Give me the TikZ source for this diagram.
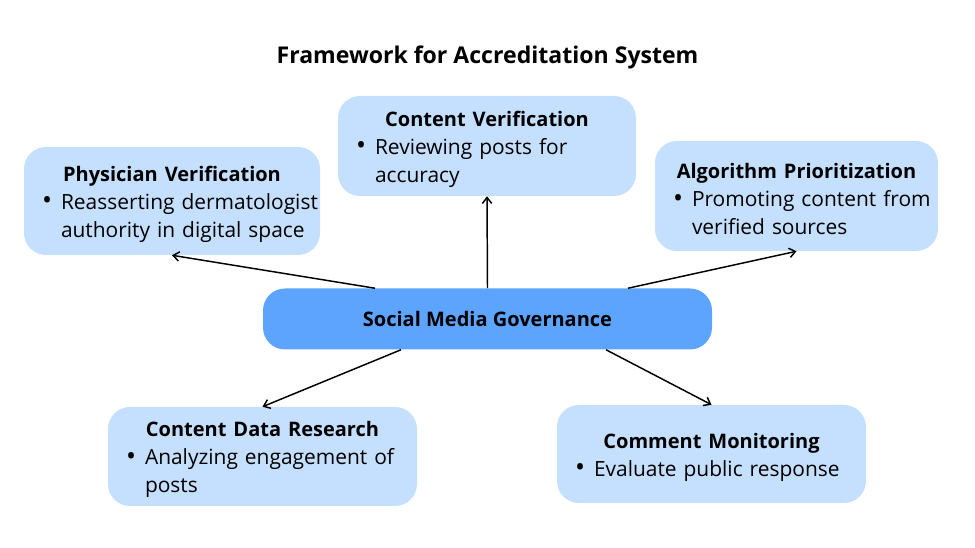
\documentclass[tikz,border=0pt]{standalone}
\usepackage{fontspec}
\setmainfont{Open Sans}
\usepackage{xcolor}
\usetikzlibrary{arrows.meta}

\definecolor{boxblue}{RGB}{197,223,254}
\definecolor{hubblue}{RGB}{92,164,253}

\newlength{\pxu}
\setlength{\pxu}{0.75pt}
\newcommand{\boxhead}[1]{\makebox[\linewidth]{\rule{0pt}{16pt}\fontsize{15}{21}\selectfont\bfseries #1}}
\newcommand{\bul}[1]{\mbox{\hspace*{14\pxu}\makebox[19\pxu][l]{\raisebox{-0.6pt}{\fontsize{20}{21}\selectfont\textbullet}}#1}}
\newcommand{\bulcont}[1]{\mbox{\hspace*{33\pxu}#1}}

\tikzset{
  topic/.style={fill=boxblue, rounded corners=22\pxu, inner xsep=4\pxu, inner ysep=0pt,
    align=left, font=\fontsize{15.7}{21}\selectfont},
  hub/.style={fill=hubblue, rounded corners=22\pxu, inner sep=0pt, align=center,
    font=\fontsize{15}{21}\selectfont\bfseries},
  link/.style={line width=1.1pt, -{Straight Barb[length=4.5pt,width=7pt]}}
}

\begin{document}
\begin{tikzpicture}[x=0.75pt,y=0.75pt,yscale=-1,xscale=1]
\useasboundingbox (0,0) rectangle (975,548);

% Title
\node (title) at (487.5,57) {\fontsize{17.3}{20}\selectfont\bfseries Framework for Accreditation System};

%Shape: Rounded Rect [id:hub]
\node [hub, minimum width=449\pxu, minimum height=61\pxu] (smg) at (487.5,319) {Social Media Governance};

%Shape: Rounded Rect [id:physician]
\node [topic, minimum width=296\pxu, minimum height=108\pxu, text width=288\pxu] (phys) at (172,201)
  {\boxhead{Physician Verification}\\ \bul{Reasserting dermatologist}\\ \bulcont{authority in digital space}};
%Shape: Rounded Rect [id:content]
\node [topic, minimum width=298\pxu, minimum height=100\pxu, text width=290\pxu] (cver) at (487,146)
  {\boxhead{Content Verification}\\ \bul{Reviewing posts for}\\ \bulcont{accuracy}};
%Shape: Rounded Rect [id:algorithm]
\node [topic, minimum width=283\pxu, minimum height=110\pxu, text width=275\pxu] (algo) at (796.5,196)
  {\boxhead{Algorithm Prioritization}\\ \bul{Promoting content from}\\ \bulcont{verified sources}};
%Shape: Rounded Rect [id:research]
\node [topic, minimum width=309\pxu, minimum height=99\pxu, text width=301\pxu] (cdr) at (262.5,456.5)
  {\boxhead{Content Data Research}\\ \bul{Analyzing engagement of}\\ \bulcont{posts}};
%Shape: Rounded Rect [id:monitoring]
\node [topic, minimum width=309\pxu, minimum height=98\pxu, text width=301\pxu] (cmon) at (711.5,454)
  {\boxhead{Comment Monitoring}\\ \bul{Evaluate public response}};

%Straight Lines
\draw [link] ([xshift=-112.5\pxu]smg.north) -- (phys.south);
\draw [link] (smg.north) -- (cver.south);
\draw [link] ([xshift=140.5\pxu]smg.north) -- (algo.south);
\draw [link] ([xshift=-86.5\pxu]smg.south) -- (cdr.north);
\draw [link] ([xshift=118.5\pxu]smg.south) -- (cmon.north);

\end{tikzpicture}
\end{document}
